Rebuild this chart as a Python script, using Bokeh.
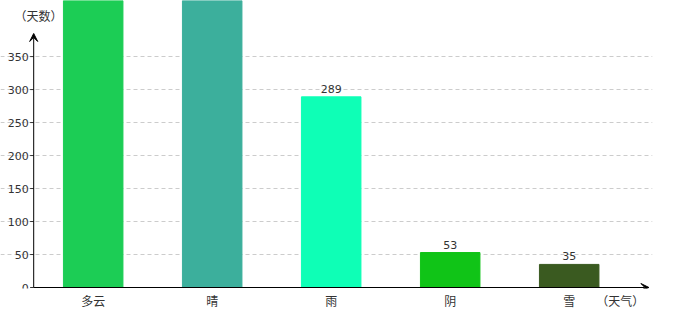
from bokeh.plotting import figure
from bokeh.models import Range1d, FixedTicker, ColumnDataSource, Arrow, VeeHead, Label
from bokeh.core.properties import value
from bokeh.embed import file_html
from bokeh.resources import INLINE

categories = ["多云", "晴", "雨", "阴", "雪"]
days = [760, 620, 289, 53, 35]
colors = ["#1ccd55", "#3caf9c", "#0effb6", "#10c417", "#3a5a20"]
y_ticks = [0, 50, 100, 150, 200, 250, 300, 350]
x_title = "（天气）"
y_title = "（天数）"

Y_MAX = 435
xs = [i + 0.5 for i in range(len(categories))]
src = ColumnDataSource(dict(x=xs, top=days, color=colors))
vis = [i for i, d in enumerate(days) if d < Y_MAX - 30]
lab_src = ColumnDataSource(dict(x=[xs[i] for i in vis], top=[days[i] for i in vis],
                                lab=[str(days[i]) for i in vis]))
ytick_src = ColumnDataSource(dict(y=y_ticks, lab=[str(t) for t in y_ticks],
                                  x=[0] * len(y_ticks), x0=[-0.03] * len(y_ticks)))

p = figure(width=680, height=320, output_backend="svg", toolbar_location=None,
           x_range=Range1d(-0.279, 5.2), y_range=Range1d(-1.5, Y_MAX),
           min_border_left=0, min_border_right=28, min_border_top=0,
           min_border_bottom=32)
p.outline_line_color = None
p.background_fill_color = "white"
p.yaxis.visible = False

p.xgrid.grid_line_color = None
p.ygrid.ticker = FixedTicker(ticks=y_ticks[1:])
p.ygrid.grid_line_color = "#cccccc"
p.ygrid.grid_line_dash = "4 3"
p.ygrid.bounds = (0, 5.15)

p.vbar(x="x", top="top", width=0.5, bottom=0, color="color", source=src)
p.text(x="x", y="top", text="lab", source=lab_src, text_align="center",
       text_baseline="bottom", y_offset=-4, text_font_size="11px",
       text_color="#333333", text_font=value("DejaVu Sans"))

# y axis tick labels and tick marks
p.text(x="x", y="y", text="lab", source=ytick_src, text_align="right",
       text_baseline="middle", x_offset=-5, text_font_size="11px",
       text_color="#333333", text_font=value("DejaVu Sans"))
p.segment(x0="x0", y0="y", x1="x", y1="y", source=ytick_src,
          line_color="#333333", line_width=1)

p.xaxis.ticker = FixedTicker(ticks=xs + [4.93])
overrides = {x: c for x, c in zip(xs, categories)}
overrides[4.93] = x_title
p.xaxis.major_label_overrides = overrides
p.xaxis.axis_line_color = None
p.xaxis.major_tick_out = 0
p.xaxis.major_tick_in = 0
p.xaxis.major_tick_line_color = None
p.xaxis.minor_tick_line_color = None
p.xaxis.major_label_standoff = 3
p.xaxis.major_label_text_font_size = "12px"
p.xaxis.major_label_text_color = "#333333"
p.xaxis.major_label_text_font = "Noto Sans CJK SC"

p.add_layout(Arrow(x_start=0, y_start=0, x_end=5.17, y_end=0,
                   line_color="black", line_width=1,
                   end=VeeHead(size=8, line_color="black", line_width=1)))
p.add_layout(Arrow(x_start=0, y_start=0, x_end=0, y_end=385,
                   line_color="black", line_width=1,
                   end=VeeHead(size=8, line_color="black", line_width=1)))

p.add_layout(Label(x=14, y=15, x_units="canvas", y_units="canvas",
                   text=y_title, text_font="Noto Sans CJK SC",
                   text_font_size="12px", text_color="#333333",
                   text_baseline="middle"))

open("out.html", "w").write(file_html(p, INLINE))
